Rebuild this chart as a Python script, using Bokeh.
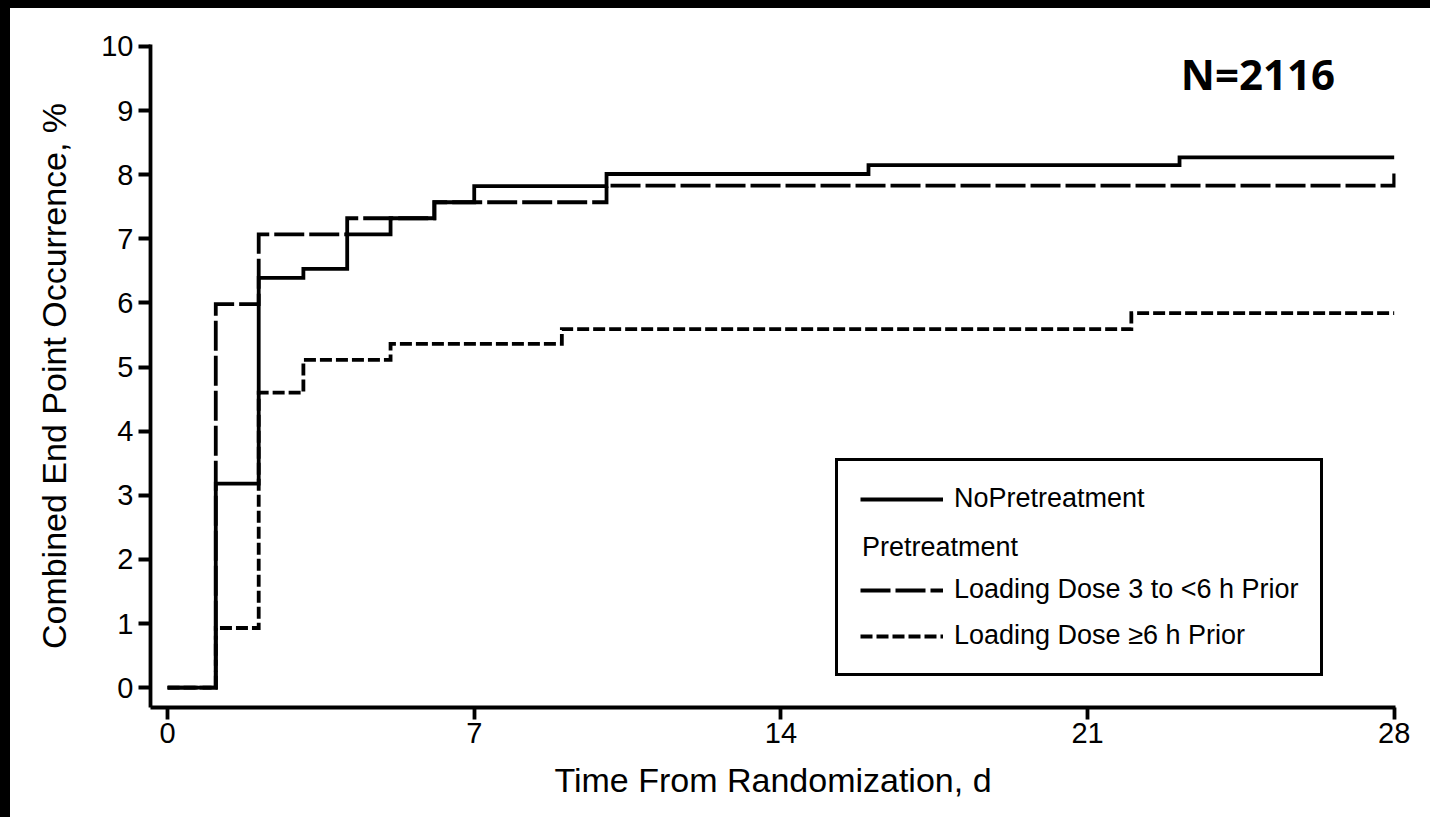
from bokeh.plotting import figure
from bokeh.models import FixedTicker, Legend, LegendItem, Label, Range1d
from bokeh.embed import file_html
from bokeh.resources import INLINE

# ---- data ----
days_ticks = [0, 7, 14, 21, 28]
pct_ticks = [0, 1, 2, 3, 4, 5, 6, 7, 8, 9, 10]

no_pre_t = [0, 1.1, 2.08, 3.1, 4.1, 5.09, 6.09, 7.0, 10.02, 16.0, 23.1, 28]
no_pre_v = [0, 3.18, 6.39, 6.53, 7.07, 7.32, 7.57, 7.82, 8.01, 8.15, 8.27, 8.27]

ld3_t = [0, 1.1, 2.08, 4.1, 6.09, 10.02, 28]
ld3_v = [0, 5.98, 7.07, 7.32, 7.57, 7.83, 8.02]

ld6_t = [0, 1.1, 2.08, 3.1, 5.09, 9.0, 22.0, 28]
ld6_v = [0, 0.93, 4.60, 5.11, 5.36, 5.59, 5.84, 5.84]

labels = ["NoPretreatment", "Pretreatment", "Loading Dose 3 to <6 h Prior", "Loading Dose \u22656 h Prior"]
n_text = "N=2116"

FONT = "Liberation Sans"
LW = 3.8

use_css = True
try:
    from bokeh.models import GlobalInlineStyleSheet
except Exception:
    use_css = False

if use_css:
    W, H = 1420, 809
    OX, OY = 10, 8
else:
    W, H = 1414, 801
    OX, OY = 8, 8

p = figure(width=W, height=H, output_backend="svg", toolbar_location=None,
           x_range=Range1d(-0.39, 28.03), y_range=Range1d(-0.31, 10.03),
           min_border_left=150 - OX, min_border_right=W - (1395 - OX),
           min_border_top=44 - OY, min_border_bottom=H - (707 - OY))

p.styles = {"background-color": "white"}
if use_css:
    p.stylesheets = [GlobalInlineStyleSheet(
        css="html{margin:0;padding:0;background:#fff;overflow:hidden;}"
            " body{margin:0;padding:8px 0 0 10px;background:#000;overflow:hidden;}")]

p.background_fill_color = "white"
p.border_fill_color = "white"
p.outline_line_color = None
p.grid.visible = False

r_ld6 = p.step(ld6_t, ld6_v, mode="after", line_color="black", line_width=LW,
               line_dash="12 4", line_join="miter")
r_ld3 = p.step(ld3_t, ld3_v, mode="after", line_color="black", line_width=LW,
               line_dash="30 5", line_join="miter")
r_no = p.step(no_pre_t, no_pre_v, mode="after", line_color="black", line_width=LW,
              line_join="miter")
r_blank = p.line([0, 0], [0, 0], line_alpha=0)

for ax in (p.xaxis[0], p.yaxis[0]):
    ax.axis_line_width = LW
    ax.axis_line_color = "black"
    ax.major_tick_line_width = LW
    ax.major_tick_out = 12
    ax.major_tick_in = 0
    ax.minor_tick_line_color = None
    ax.major_label_text_font = FONT
    ax.major_label_text_font_size = "29px"
    ax.major_label_text_color = "black"
    ax.axis_label_text_font = FONT
    ax.axis_label_text_font_size = "34px"
    ax.axis_label_text_font_style = "normal"
    ax.axis_label_text_color = "black"

p.xaxis.ticker = FixedTicker(ticks=days_ticks)
p.yaxis.ticker = FixedTicker(ticks=pct_ticks)
p.xaxis.axis_label = "Time From Randomization, d"
p.yaxis.axis_label = "Combined End Point Occurrence, %"
p.xaxis.major_label_standoff = 3
p.yaxis.major_label_standoff = 5
p.xaxis.axis_label_standoff = 15
p.yaxis.axis_label_standoff = 25

legend = Legend(items=[
    LegendItem(label=labels[0], renderers=[r_no]),
    LegendItem(label=" ", renderers=[r_blank]),
    LegendItem(label=labels[2], renderers=[r_ld3]),
    LegendItem(label=labels[3], renderers=[r_ld6]),
], location=(685, 31))
legend.border_line_color = "black"
legend.border_line_alpha = 1
legend.border_line_width = LW
legend.background_fill_alpha = 0
legend.padding = 22
legend.margin = 0
legend.spacing = 15
legend.glyph_width = 83
legend.glyph_height = 30
legend.label_height = 30
legend.label_standoff = 11
legend.label_text_font = FONT
legend.label_text_font_size = "27px"
legend.label_text_color = "black"
p.add_layout(legend, "center")

p.add_layout(Label(x=15.85, y=2.2, text=labels[1], text_font=FONT, text_font_size="27px",
                   text_baseline="middle", text_align="left", text_color="black",
                   level="overlay"))
p.add_layout(Label(x=26.65, y=9.58, text=n_text, text_font="Open Sans", text_font_size="42px",
                   text_font_style="bold", text_baseline="alphabetic", text_align="right",
                   text_color="black", level="overlay"))

open("out.html", "w").write(file_html(p, INLINE))
